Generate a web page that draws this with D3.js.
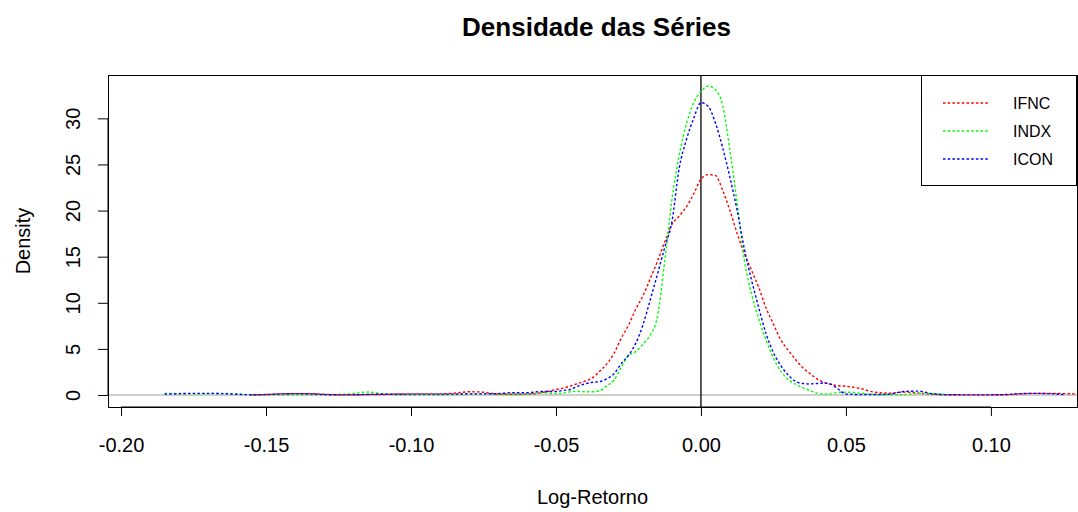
<!DOCTYPE html>
<html>
<head>
<meta charset="utf-8">
<script src="https://cdn.jsdelivr.net/npm/d3@7"></script>
<style>
  html, body { margin: 0; padding: 0; background: #fff; }
  svg { display: block; font-family: "Liberation Sans", Arial, sans-serif; }
</style>
</head>
<body>
<svg id="chart" width="1078" height="512"></svg>
<script>
// Log-return grid (x) shared by the three density estimates
const logRet = [
  -0.185, -0.18, -0.175, -0.17, -0.165, -0.16, -0.155, -0.15, -0.145, -0.14,
  -0.135, -0.13, -0.125, -0.12, -0.115, -0.11, -0.105, -0.10, -0.095, -0.09,
  -0.085, -0.08, -0.075, -0.07, -0.065, -0.06, -0.055, -0.05,
  -0.0475, -0.045, -0.0425, -0.04, -0.0375, -0.035, -0.0325, -0.03, -0.0275, -0.025,
  -0.0225, -0.02, -0.0175, -0.015, -0.0125, -0.01, -0.0075, -0.005, -0.0025, 0.0,
  0.0025, 0.005, 0.0075, 0.01, 0.0125, 0.015, 0.0175, 0.02, 0.0225, 0.025,
  0.0275, 0.03, 0.0325, 0.035, 0.0375, 0.04, 0.0425, 0.045, 0.0475, 0.05,
  0.055, 0.06, 0.065, 0.07, 0.075, 0.08, 0.085, 0.09, 0.095, 0.10,
  0.105, 0.11, 0.115, 0.12, 0.125, 0.13
];

// Kernel density of each series (null = outside the estimate's support)
const densIFNC = [
  null, null, null, null, null, null, 0.02, 0.05, 0.12, 0.15,
  0.15, 0.08, 0.03, 0.02, 0.05, 0.05, 0.10, 0.12, 0.12, 0.12,
  0.20, 0.35, 0.30, 0.10, 0.08, 0.10, 0.25, 0.60,
  0.75, 0.98, 1.25, 1.50, 1.85, 2.55, 3.35, 4.50, 6.15, 7.55,
  9.30, 10.75, 12.6, 14.5, 16.6, 18.5, 19.4, 20.4, 21.8, 23.4,
  23.9, 23.8, 22.2, 20.0, 17.5, 15.3, 13.5, 11.6, 9.40, 7.70,
  6.00, 4.90, 3.90, 3.00, 2.35, 1.75, 1.35, 1.15, 1.00, 0.95,
  0.70, 0.30, 0.20, 0.32, 0.20, 0.08, 0.03, 0.02, 0.02, 0.02,
  0.03, 0.12, 0.18, 0.18, 0.15, 0.12
];

const densINDX = [
  0.18, 0.15, 0.12, 0.15, 0.18, 0.10, 0.03, 0.02, 0.02, 0.02,
  0.02, 0.02, 0.05, 0.15, 0.32, 0.15, 0.03, 0.02, 0.02, 0.03,
  0.05, 0.12, 0.12, 0.08, 0.05, 0.10, 0.25, 0.15,
  0.20, 0.35, 0.40, 0.35, 0.35, 0.45, 1.00, 1.60, 3.00, 4.30,
  4.70, 5.50, 6.50, 8.50, 14.5, 21.2, 26.0, 29.4, 31.7, 32.9,
  33.5, 33.1, 31.4, 26.5, 20.8, 14.6, 10.9, 8.20, 5.90, 4.00,
  2.60, 1.70, 1.20, 0.80, 0.50, 0.20, 0.10, 0.12, 0.30, 0.30,
  0.20, 0.05, 0.03, 0.05, 0.18, 0.15, 0.05, null, null, null,
  null, null, null, null, null, null
];

const densICON = [
  0.10, 0.15, 0.18, 0.18, 0.15, 0.08, 0.03, 0.05, 0.12, 0.15,
  0.13, 0.05, 0.02, 0.02, 0.06, 0.08, 0.08, 0.10, 0.10, 0.10,
  0.10, 0.12, 0.12, 0.15, 0.25, 0.25, 0.38, 0.38,
  0.50, 0.60, 0.95, 1.20, 1.38, 1.45, 1.75, 2.30, 3.40, 4.30,
  5.60, 7.60, 10.3, 13.1, 16.0, 18.8, 24.6, 27.7, 30.0, 31.7,
  31.3, 29.5, 26.8, 23.6, 20.0, 15.8, 12.4, 9.40, 6.60, 4.60,
  3.20, 2.20, 1.50, 1.25, 1.20, 1.25, 1.30, 1.15, 0.60, 0.10,
  0.05, 0.05, 0.10, 0.38, 0.42, 0.12, 0.03, 0.02, 0.02, 0.02,
  0.05, 0.15, 0.18, 0.15, 0.05, null
];

const seriesNames = ["IFNC", "INDX", "ICON"];
const seriesColors = ["#ff0000", "#00ff00", "#0000ff"];
const seriesDens = [densIFNC, densINDX, densICON];

const xTicks = [-0.20, -0.15, -0.10, -0.05, 0.00, 0.05, 0.10];
const yTicks = [0, 5, 10, 15, 20, 25, 30];

// Plot region
const svg = d3.select("#chart");
const plot = { left: 108, right: 1077, top: 75, bottom: 407 };

const x = d3.scaleLinear().domain([-0.2045, 0.1297]).range([plot.left, plot.right]);
const y = d3.scaleLinear().domain([-1.3, 34.7]).range([plot.bottom, plot.top]);

svg.append("defs").append("clipPath").attr("id", "plotClip")
  .append("rect")
  .attr("x", plot.left).attr("y", plot.top)
  .attr("width", plot.right - plot.left).attr("height", plot.bottom - plot.top);

// Title
svg.append("text")
  .attr("x", (plot.left + plot.right) / 2 + 4)
  .attr("y", 36)
  .attr("text-anchor", "middle")
  .attr("font-size", 26)
  .attr("font-weight", "bold")
  .attr("fill", "#000")
  .text("Densidade das Séries");

// Reference lines: zero density (gray) and zero return (black)
const ref = svg.append("g").attr("clip-path", "url(#plotClip)");
ref.append("line")
  .attr("x1", plot.left).attr("x2", plot.right)
  .attr("y1", y(0)).attr("y2", y(0))
  .attr("stroke", "#bebebe").attr("stroke-width", 1.5);

// Density curves
const line = d3.line()
  .defined(d => d[1] != null)
  .x(d => x(d[0]))
  .y(d => y(d[1]))
  .curve(d3.curveMonotoneX);

const curves = svg.append("g").attr("clip-path", "url(#plotClip)");
seriesDens.forEach((dens, i) => {
  const pts = logRet.map((v, j) => [v, dens[j]]);
  curves.append("path")
    .datum(pts)
    .attr("d", line)
    .attr("fill", "none")
    .attr("stroke", seriesColors[i])
    .attr("stroke-width", 1.4)
    .attr("stroke-dasharray", "2.5,2.2");
});

ref.append("line")
  .attr("x1", x(0)).attr("x2", x(0))
  .attr("y1", plot.top).attr("y2", plot.bottom)
  .attr("stroke", "#000").attr("stroke-width", 1.3);

// Axes
const xAxis = d3.axisBottom(x).tickValues(xTicks).tickSize(9).tickPadding(22)
  .tickFormat(d3.format(".2f"));
const gx = svg.append("g").attr("transform", `translate(0,${plot.bottom})`).call(xAxis);
gx.select(".domain").attr("d", `M${x(xTicks[0])},0H${x(xTicks[xTicks.length - 1])}`);
gx.selectAll("text").attr("font-size", 20).attr("font-family", "Liberation Sans, Arial, sans-serif")
  .attr("fill", "#000").text(d => d3.format(".2f")(d).replace("−", "-"));
gx.selectAll("line, path").attr("stroke", "#000").attr("stroke-width", 1);

const yAxis = d3.axisLeft(y).tickValues(yTicks).tickSize(10).tickPadding(0);
const gy = svg.append("g").attr("transform", `translate(${plot.left},0)`).call(yAxis);
gy.select(".domain").attr("d", `M0,${y(yTicks[0])}V${y(yTicks[yTicks.length - 1])}`);
gy.selectAll("line, path").attr("stroke", "#000").attr("stroke-width", 1);
gy.selectAll(".tick text")
  .attr("font-size", 20).attr("font-family", "Liberation Sans, Arial, sans-serif").attr("fill", "#000")
  .attr("x", null).attr("dy", null)
  .attr("text-anchor", "middle")
  .attr("transform", "translate(-28,0) rotate(-90)")
  .attr("y", 0);

// Plot frame
svg.append("rect")
  .attr("x", plot.left + 0.5).attr("y", plot.top + 0.5)
  .attr("width", plot.right - plot.left).attr("height", plot.bottom - plot.top)
  .attr("fill", "none").attr("stroke", "#000").attr("stroke-width", 1);

// Axis titles
svg.append("text")
  .attr("x", (plot.left + plot.right) / 2)
  .attr("y", 504)
  .attr("text-anchor", "middle")
  .attr("font-size", 20)
  .text("Log-Retorno");

svg.append("text")
  .attr("transform", `translate(30,${(plot.top + plot.bottom) / 2}) rotate(-90)`)
  .attr("text-anchor", "middle")
  .attr("font-size", 20)
  .text("Density");

// Legend
const legend = svg.append("g");
legend.append("rect")
  .attr("x", 921.5).attr("y", 75.5)
  .attr("width", 155).attr("height", 110)
  .attr("fill", "#fff").attr("stroke", "#000").attr("stroke-width", 1);
seriesNames.forEach((name, i) => {
  const ly = 103 + i * 28;
  legend.append("line")
    .attr("x1", 943).attr("x2", 990)
    .attr("y1", ly).attr("y2", ly)
    .attr("stroke", seriesColors[i]).attr("stroke-width", 1.4)
    .attr("stroke-dasharray", "2.5,2.2");
  legend.append("text")
    .attr("x", 1013).attr("y", ly + 6)
    .attr("font-size", 16)
    .text(name);
});
</script>
</body>
</html>
